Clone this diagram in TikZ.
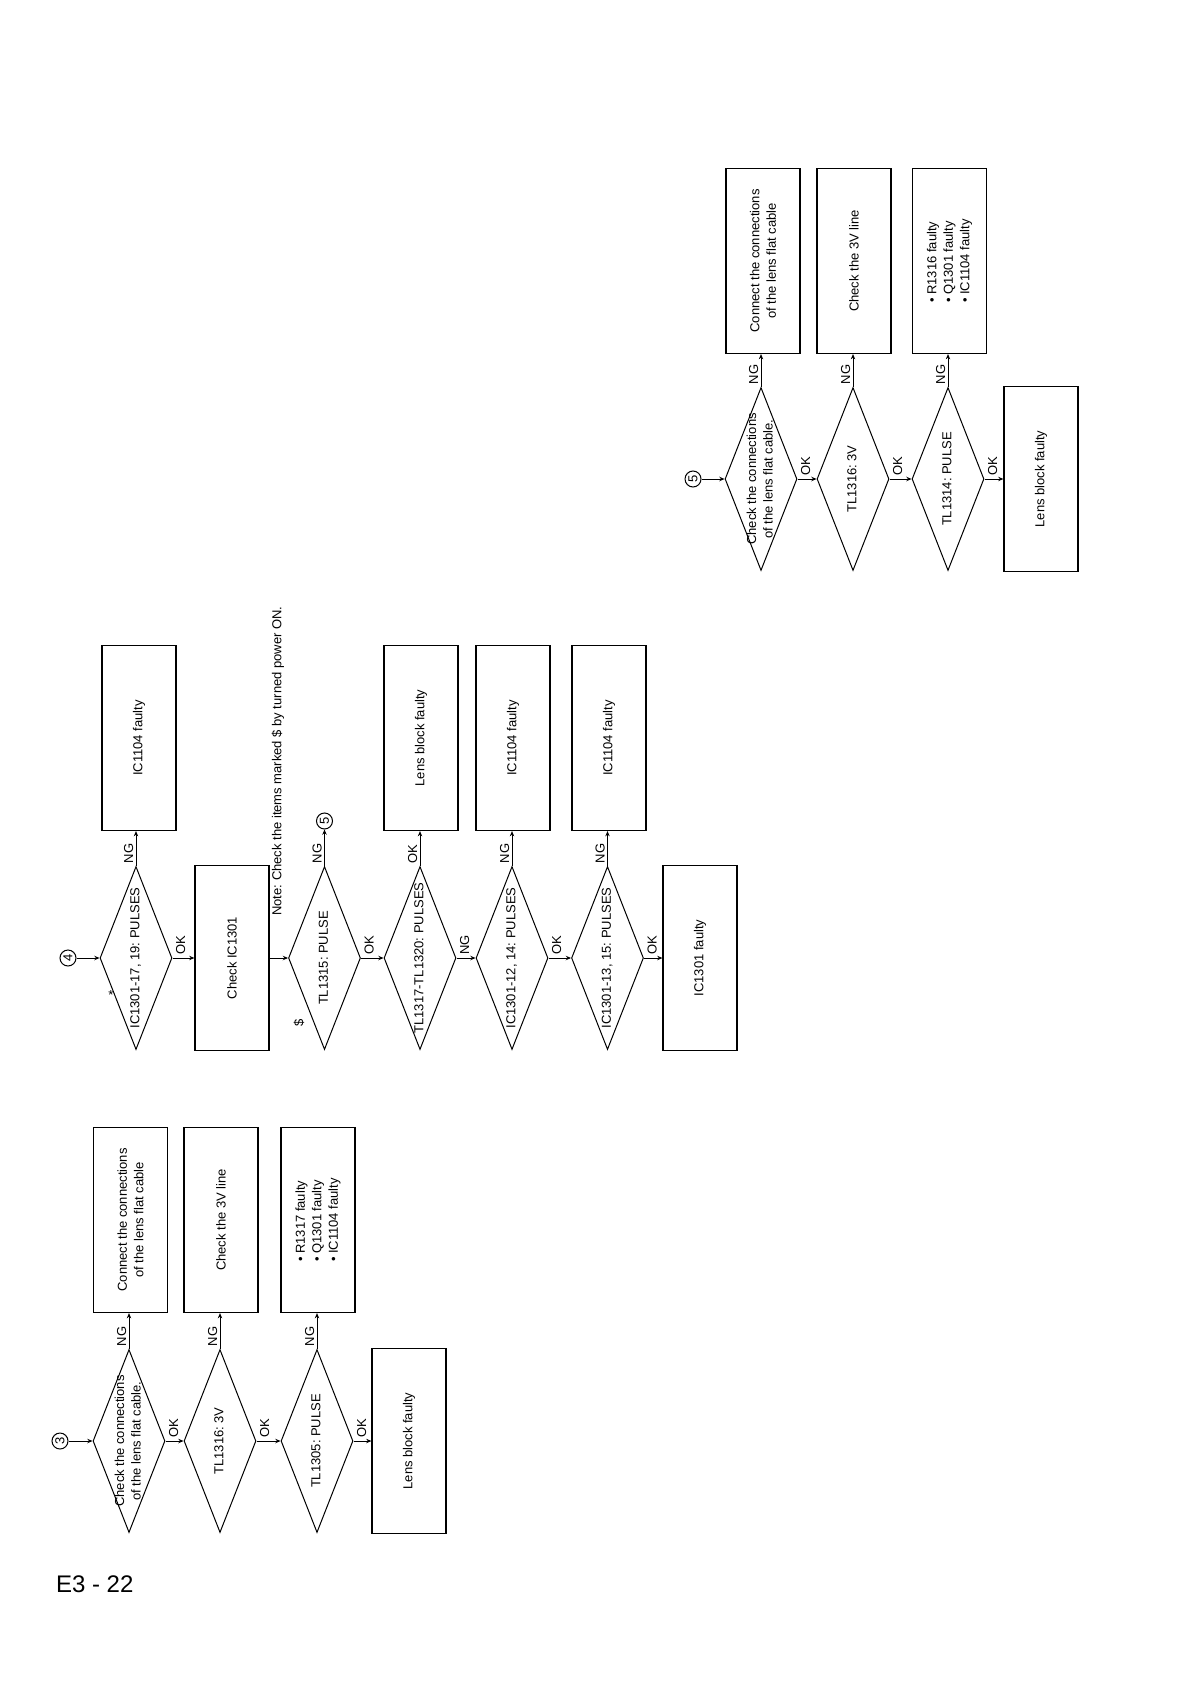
\documentclass[tikz,border=0pt]{standalone}
\usepackage{fontspec}
\setmainfont{Liberation Sans}
\usetikzlibrary{arrows.meta,shapes.geometric}
\newcommand\dtext[1]{\makebox[0pt]{\begin{tabular}{@{}c@{}}#1\end{tabular}}}
\frenchspacing

\begin{document}
\begin{tikzpicture}[
  x=0.5pt, y=-0.5pt,
  font=\fontsize{6.5}{8.3}\selectfont,
  check/.style={diamond, draw, line width=0.5pt, rotate=90, inner sep=0pt,
    minimum width=91.5pt, minimum height=36pt},
  action/.style={draw, line width=0.6pt, rotate=90, align=center,
    minimum width=92.5pt, minimum height=37pt, inner sep=1pt},
  listbox/.style={action, align=left},
  joint/.style={circle, draw, line width=0.5pt, rotate=90, inner sep=0pt,
    minimum size=8pt},
  arrow/.style={-{Stealth[length=2.6pt, width=2.2pt]}, line width=0.45pt},
  upmark/.style={pos=0, rotate=90, anchor=south west, inner sep=1.2pt},
  onmark/.style={pos=0, rotate=90, anchor=north west, inner sep=1.5pt}
]
\fill[white] (0,0) rectangle (1190,1684);

% chart 3
\node[joint] (c3) at (60,1441) {3};
\node[check] (d31) at (129,1441) {\dtext{Check the connections\\of the lens flat cable.}};
\node[check] (d32) at (220,1441) {\dtext{TL1316: 3V}};
\node[check] (d33) at (317,1441) {\dtext{TL1305: PULSE}};
\node[action] (b31) at (130.5,1220) {Connect the connections\\of the lens flat cable};
\node[action] (b32) at (221,1220) {Check the 3V line};
\node[listbox] (b33) at (318,1220) {\textbullet{} R1317 faulty\\\textbullet{} Q1301 faulty\\\textbullet{} IC1104 faulty};
\node[action] (b34) at (409,1441) {Lens block faulty};

\draw[arrow] (c3) -- (d31.north);
\foreach \a/\b in {d31/d32,d32/d33,d33/b34}
  \draw[arrow] (\a.south) -- node[onmark]{OK} (\b.north);
\foreach \a/\b in {d31/b31,d32/b32,d33/b33}
  \draw[arrow] (\a.east) -- node[upmark]{NG} (\a.east |- \b.west);

% chart 4
\node[joint] (c4) at (68,958) {4};
\node[check] (dA) at (136,958) {\dtext{IC1301-17, 19: PULSES}};
\node[action] (bA) at (139,738) {IC1104 faulty};
\node[action] (bB) at (232,958) {Check IC1301};
\node[check] (dB) at (324.5,958) {\dtext{TL1315: PULSE}};
\node[joint] (c5m) at (324.5,821) {5};
\node[check] (dC) at (420,958) {\dtext{TL1317-TL1320: PULSES}};
\node[action] (bC) at (421,738) {Lens block faulty};
\node[check] (dD) at (512,958) {\dtext{IC1301-12, 14: PULSES}};
\node[action] (bD) at (513,738) {IC1104 faulty};
\node[check] (dE) at (607.5,958) {\dtext{IC1301-13, 15: PULSES}};
\node[action] (bE) at (609,738) {IC1104 faulty};
\node[action] (bF) at (700,958) {IC1301 faulty};
\node[rotate=90] (note) at (278,761) {Note: Check the items marked \$ by turned power ON.};
\node[rotate=90] (dollar) at (299,1023) {\$};
\node (star) at (111,995) {*};

\draw[arrow] (c4) -- (dA.north);
\draw[arrow] (dA.south) -- node[onmark]{OK} (bB.north);
\draw[arrow] (bB.south) -- (dB.north);
\foreach \a/\b/\t in {dB/dC/OK,dC/dD/NG,dD/dE/OK,dE/bF/OK}
  \draw[arrow] (\a.south) -- node[onmark]{\t} (\b.north);
\draw[arrow] (dB.east) -- node[upmark]{NG} (c5m);
\foreach \a/\b/\t in {dA/bA/NG,dC/bC/OK,dD/bD/NG,dE/bE/NG}
  \draw[arrow] (\a.east) -- node[upmark]{\t} (\a.east |- \b.west);

% chart 5
\node[joint] (c5) at (693,479) {5};
\node[check] (d51) at (761,479) {\dtext{Check the connections\\of the lens flat cable.}};
\node[check] (d52) at (853,479) {\dtext{TL1316: 3V}};
\node[check] (d53) at (948,479) {\dtext{TL1314: PULSE}};
\node[action] (b51) at (763,261) {Connect the connections\\of the lens flat cable};
\node[action] (b52) at (854,261) {Check the 3V line};
\node[listbox] (b53) at (949.5,261) {\textbullet{} R1316 faulty\\\textbullet{} Q1301 faulty\\\textbullet{} IC1104 faulty};
\node[action] (b54) at (1041,479) {Lens block faulty};

\draw[arrow] (c5) -- (d51.north);
\foreach \a/\b in {d51/d52,d52/d53,d53/b54}
  \draw[arrow] (\a.south) -- node[onmark]{OK} (\b.north);
\foreach \a/\b in {d51/b51,d52/b52,d53/b53}
  \draw[arrow] (\a.east) -- node[upmark]{NG} (\a.east |- \b.west);

\node[font=\fontsize{12}{14}\selectfont, anchor=west] (page) at (49,1584) {E3 - 22};
\end{tikzpicture}
\end{document}
